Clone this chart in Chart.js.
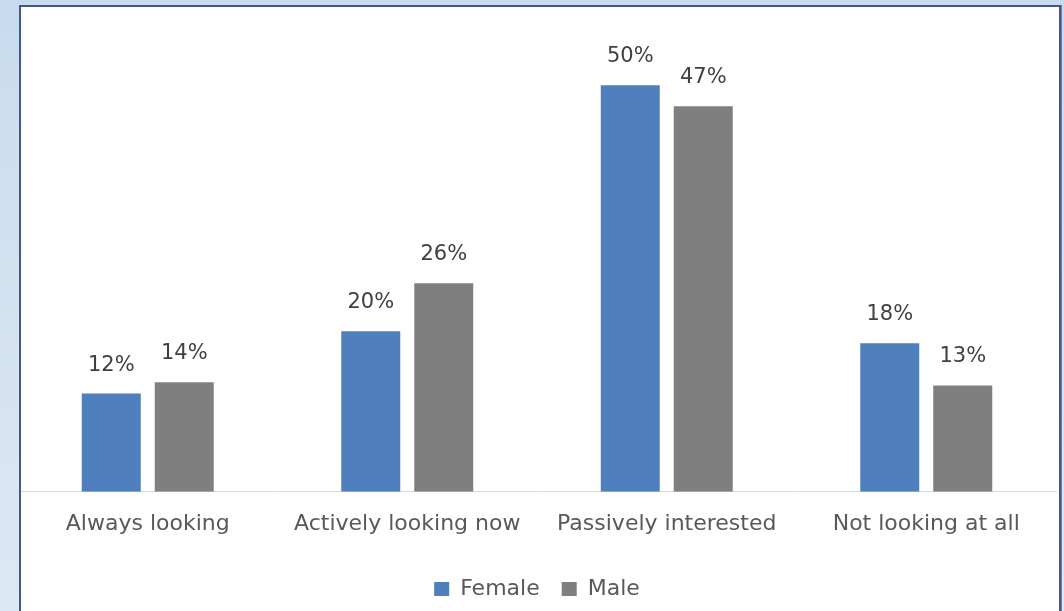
<!DOCTYPE html>
<html><head><meta charset="utf-8">
<script src="https://cdn.jsdelivr.net/npm/chart.js@4.4.1/dist/chart.umd.min.js"></script>
<style>
html,body{margin:0;padding:0;width:1064px;height:611px;overflow:hidden;}
body{background:linear-gradient(180deg,#c8dbee 0%,#d3e2f1 50%,#dce8f4 100%);position:relative;}
#panel{position:absolute;left:21px;top:7px;width:1038px;height:640px;background:#ffffff;}
#frame{position:absolute;left:19px;top:5px;width:1038px;height:640px;border:2px solid #41598a;pointer-events:none;box-shadow:1px 0 0 #6a82ad;}
#wrap{position:absolute;left:0;top:0;width:1064px;height:611px;}
</style>
</head><body>
<div id="panel"></div>
<div id="wrap"><canvas id="c" width="1064" height="611"></canvas></div>
<div id="frame"></div>
<script>
const categories = ['Always looking', 'Actively looking now', 'Passively interested', 'Not looking at all'];
const femaleValues = [12.1, 19.8, 50.1, 18.3];
const maleValues = [13.5, 25.7, 47.5, 13.1];
const femaleLabels = ['12%', '20%', '50%', '18%'];
const maleLabels = ['14%', '26%', '47%', '13%'];
const seriesNames = ['Female', 'Male'];

const FONT = "'DejaVu Sans', sans-serif";

const barLabels = {
  id: 'barLabels',
  afterDatasetsDraw(chart) {
    const ctx = chart.ctx;
    ctx.save();
    ctx.font = "21px " + FONT;
    ctx.fillStyle = '#404040';
    ctx.textAlign = 'center';
    ctx.textBaseline = 'alphabetic';
    chart.data.datasets.forEach((ds, i) => {
      const meta = chart.getDatasetMeta(i);
      meta.data.forEach((bar, j) => {
        ctx.fillText(ds.valueLabels[j], bar.x, bar.y - 23);
      });
    });
    ctx.restore();
  }
};

new Chart(document.getElementById('c'), {
  type: 'bar',
  data: {
    labels: categories,
    datasets: [
      { label: seriesNames[0], data: femaleValues, valueLabels: femaleLabels, backgroundColor: '#4f7fbc', borderWidth: 0,
        categoryPercentage: 0.5626, barPercentage: 0.808 },
      { label: seriesNames[1], data: maleValues, valueLabels: maleLabels, backgroundColor: '#7f7f7f', borderWidth: 0,
        categoryPercentage: 0.5626, barPercentage: 0.808 }
    ]
  },
  options: {
    responsive: false,
    animation: false,
    devicePixelRatio: 1,
    layout: { padding: { left: 18, right: 8, top: 45.5, bottom: 1 } },
    scales: {
      x: {
        grid: { display: false, drawTicks: false },
        border: { display: true, color: '#d9d9d9', width: 1 },
        ticks: { font: { family: FONT, size: 22, lineHeight: 1.1 }, color: '#595959', padding: 20, maxRotation: 0 }
      },
      y: { display: false, min: 0, max: 55 }
    },
    plugins: {
      legend: {
        position: 'bottom',
        labels: { font: { family: FONT, size: 22 }, color: '#595959', boxWidth: 15, boxHeight: 14, padding: 22 }
      },
      tooltip: { enabled: false }
    }
  },
  plugins: [barLabels]
});
</script>
</body></html>
